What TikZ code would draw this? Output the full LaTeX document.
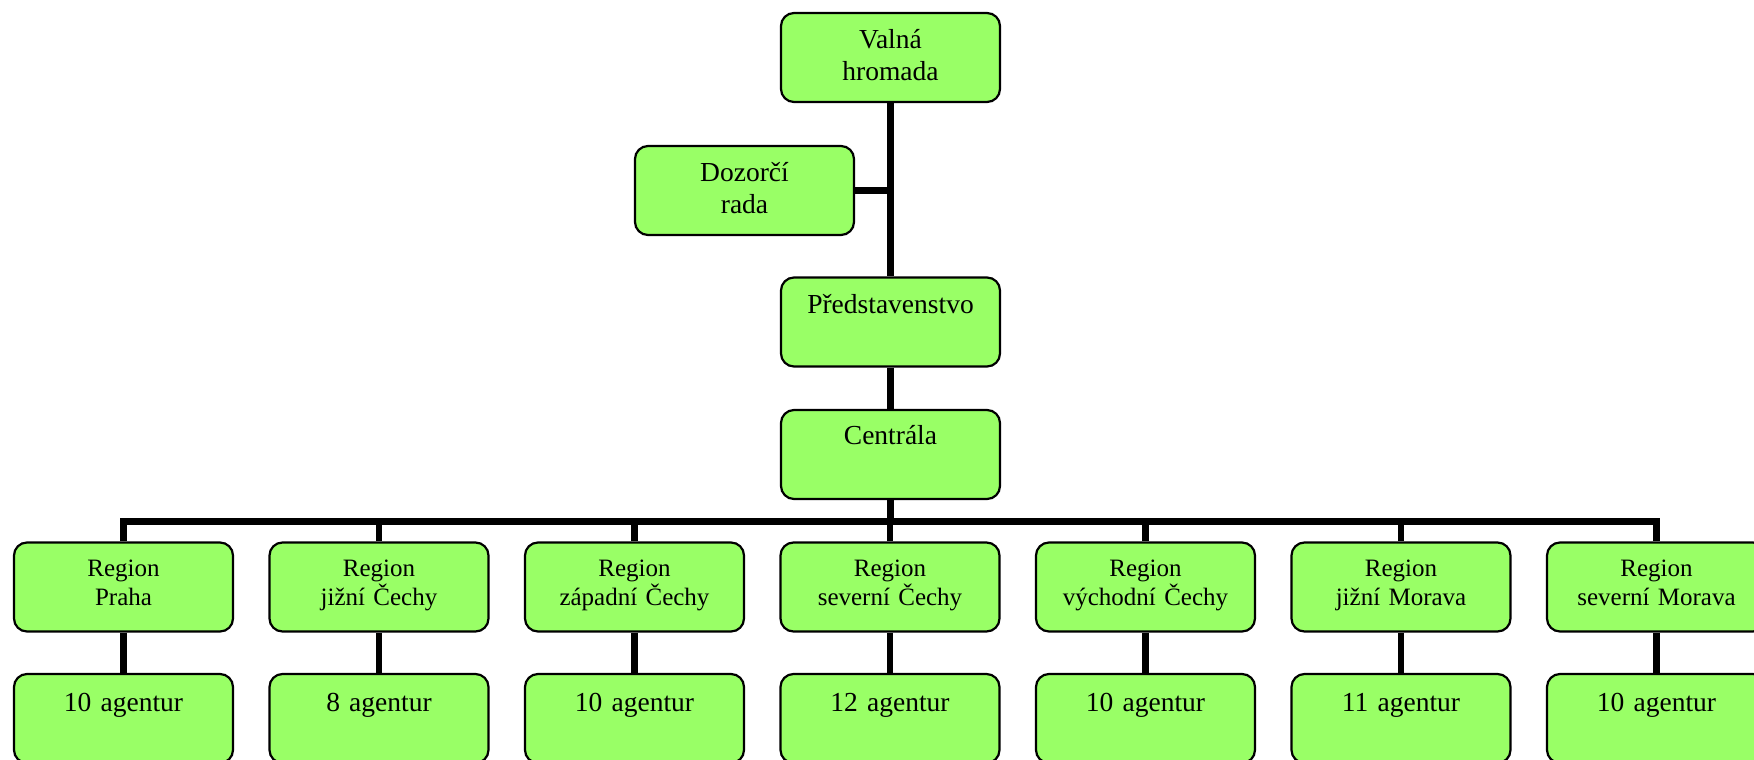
\documentclass[tikz,border=0pt]{standalone}
\usepackage{fontspec}
\setmainfont{Liberation Serif}
\usetikzlibrary{calc}
\definecolor{boxgreen}{RGB}{153,255,102}
\tikzset{
  box/.style={draw=black, line width=2.2pt, fill=boxgreen, rounded corners=13pt,
    minimum width=219pt, minimum height=89pt, inner sep=0pt},
  bigtext/.style={anchor=base, text width=219pt, align=center, inner sep=0pt,
    font=\fontsize{27.5}{32}\selectfont},
  smalltext/.style={anchor=base, text width=219pt, align=center, inner sep=0pt,
    font=\fontsize{25}{29}\selectfont},
  link/.style={draw=black, line width=6.5pt}
}
\begin{document}
\begin{tikzpicture}[x=1pt,y=-1pt]
\useasboundingbox (0,0) rectangle (1754,760);
\clip (0,0) rectangle (1754,760);
\fill[white] (0,0) rectangle (1754,760);

% upper chain
\node[box] (vh) at (890.5,57.5) {};
\node[box] (dr) at (744.5,190.5) {};
\node[box] (pr) at (890.5,322) {};
\node[box] (ce) at (890.5,454.5) {};

% regions and their agencies
\foreach \i/\r/\a in {1/{Region\\Praha}/{10 agentur},
                      2/{Region\\jižní Čechy}/{8 agentur},
                      3/{Region\\západní Čechy}/{10 agentur},
                      4/{Region\\severní Čechy}/{12 agentur},
                      5/{Region\\východní Čechy}/{10 agentur},
                      6/{Region\\jižní Morava}/{11 agentur},
                      7/{Region\\severní Morava}/{10 agentur}} {
  \node[box] (r\i) at ({123.5+255.5*(\i-1)},587) {};
  \node[box] (a\i) at ({123.5+255.5*(\i-1)},718.5) {};
  \node[smalltext] (rt\i) at ($(r\i.north)+(0,35)$) {\r};
  \node[bigtext] (at\i) at ($(a\i.north)+(0,38.5)$) {\a};
  \draw[link] (r\i.south) -- (a\i.north);
}

% labels of the upper chain
\node[bigtext] (vht) at ($(vh.north)+(0,37)$) {Valná\\hromada};
\node[bigtext] (drt) at ($(dr.north)+(0,37)$) {Dozorčí\\rada};
\node[bigtext] (prt) at ($(pr.north)+(0,37)$) {Představenstvo};
\node[bigtext] (cet) at ($(ce.north)+(0,36)$) {Centrála};

% trunk and side branch
\draw[link] (vh.south) -- (pr.north);
\draw[link] (dr.east) -- (dr.east -| vh.south);
\draw[link] (pr.south) -- (ce.north);

% distribution bus
\coordinate (bus) at ($(ce.south)+(0,21.5)$);
\draw[link] (ce.south) -- (bus);
\draw[link] (r1.north) -- (r1.north |- bus) -- (r7.north |- bus) -- (r7.north);
\foreach \i in {2,...,6} {
  \draw[link] (r\i.north) -- (r\i.north |- bus);
}
\end{tikzpicture}
\end{document}
